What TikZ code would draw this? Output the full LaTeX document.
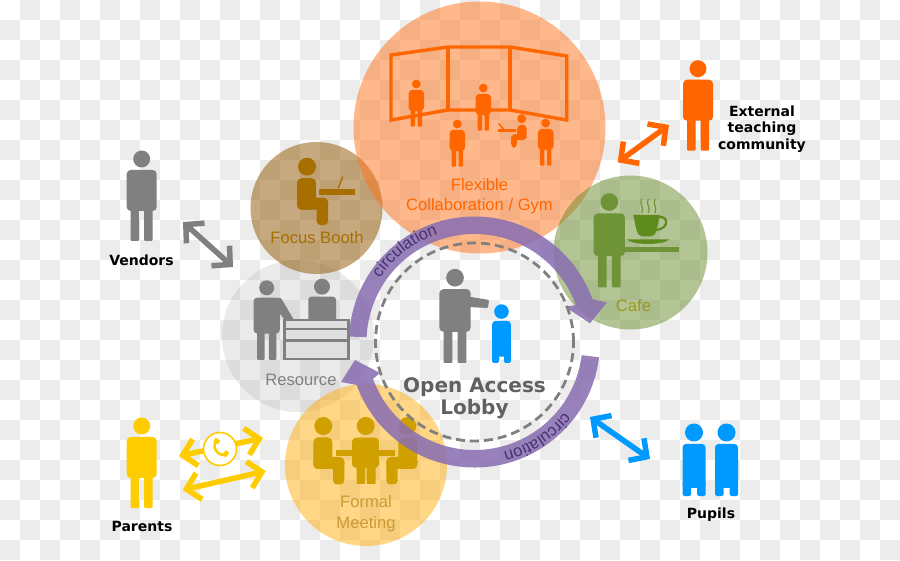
\documentclass[tikz,border=0pt]{standalone}
\usepackage{fontspec}
\setmainfont{Liberation Sans}
\newfontfamily\heavyfont{DejaVu Sans}[BoldFont={DejaVu Sans Bold}]
\usetikzlibrary{arrows.meta, calc, decorations.text}
\definecolor{checkgrey}{HTML}{ECECEC}
\definecolor{flexorange}{HTML}{FF6600}
\definecolor{flexfill}{HTML}{FF7319}
\definecolor{boothfill}{HTML}{915500}
\definecolor{boothbrown}{HTML}{A66F00}
\definecolor{resfill}{HTML}{ACACAC}
\definecolor{figgrey}{HTML}{808080}
\definecolor{cafefill}{HTML}{698B2D}
\definecolor{cafegreen}{HTML}{6F9438}
\definecolor{cupgreen}{HTML}{5E8A1E}
\definecolor{cafetext}{HTML}{999A1E}
\definecolor{meetfill}{HTML}{FFB00F}
\definecolor{meetgold}{HTML}{CFA000}
\definecolor{meettext}{HTML}{CC9A33}
\definecolor{parentyellow}{HTML}{FFCC00}
\definecolor{pupilblue}{HTML}{0099FF}
\definecolor{circpurple}{HTML}{8B70B2}
\definecolor{circtext}{HTML}{453270}
\tikzset{
    zone/.style={circle, inner sep=0pt, fill opacity=0.5},
    roomlabel/.style={align=center, font=\fontsize{16.6}{20.5}\selectfont},
    grouplabel/.style={align=center, text=black, font=\heavyfont\bfseries\fontsize{14}{16.5}\selectfont},
    twoway/.style={{Straight Barb[length=13pt, width=27pt, line width=5.5pt]}-{Straight Barb[length=13pt, width=27pt, line width=5.5pt]}, line width=5.5pt},
    flowarc/.style={fill=circpurple, fill opacity=0.88},
    flowtext/.style={decorate, decoration={text along path, text align=left,
        text={|\fontsize{16.5}{17}\selectfont\color{circtext}|circulation}}},
    person/.pic={
        \fill (0,82) circle[radius=8.5];
        \fill[rounded corners=4pt] (-15,30) rectangle (15,71);
        \fill[rounded corners=1pt] (-11,0) rectangle (-2.5,33);
        \fill[rounded corners=1pt] (2.5,0) rectangle (11,33);
    },
    pupil/.pic={
        \fill (0,63.5) circle[radius=9];
        \fill[rounded corners=3.5pt] (-11.5,8) rectangle (11.5,52);
        \fill[rounded corners=1.5pt] (-11.5,0) rectangle (-3,14);
        \fill[rounded corners=1.5pt] (3,0) rectangle (11.5,14);
    },
    seated/.pic={
        \fill (0,0) circle[radius=9];
        \fill[rounded corners=4.5pt] (-10,-11.5) rectangle (9,-43);
        \fill[rounded corners=4.5pt] (-10,-31) rectangle (21,-43);
        \fill[rounded corners=4pt] (9.7,-31.5) rectangle (21,-58.5);
    }
}
\begin{document}
\begin{tikzpicture}[x=1pt, y=1pt]
% checker backdrop
\fill[white] (0,0) rectangle (900,560);
\foreach \i in {0,...,44}{
    \foreach \j in {0,...,27}{
        \pgfmathtruncatemacro{\odd}{mod(\i+\j,2)}
        \ifnum\odd=1
            \fill[checkgrey] (20*\i,560-20*\j) rectangle (20*\i+20,540-20*\j);
        \fi
    }
}
% rooms
\node[zone, fill=resfill, fill opacity=0.24, minimum size=152pt] (resource) at (298,224) {};
\node[zone, fill=boothfill, minimum size=132pt] (booth) at (316.5,352) {};
\node[zone, fill=flexfill, minimum size=252pt] (flex) at (479.5,432.5) {};
\node[zone, fill=cafefill, minimum size=154pt] (cafe) at (630.5,307.5) {};
\node[zone, fill=meetfill, minimum size=162pt] (meeting) at (366,95) {};
\node[circle, inner sep=0pt, minimum size=198pt] (lobby) at (474.5,218) {};

% flexible room: screen and people
\draw[flexorange, line width=3.4pt, line join=miter] (391,505) -- (448,513) -- (510,513) -- (566.7,504) -- (566.7,440) -- (510,450) -- (448,450) -- (391,440) -- cycle;
\draw[flexorange, line width=3.4pt] (448,513) -- (448,450) (510,513) -- (510,450);
\pic[fill=flexorange, scale=0.52] at (416.3,433.3) {person};
\pic[fill=flexorange, scale=0.52] at (483.3,429.3) {person};
\pic[fill=flexorange, scale=0.52] at (457.3,393.3) {person};
\pic[fill=flexorange, scale=0.52] at (545.7,394.3) {person};
\pic[fill=flexorange, xscale=-0.5, yscale=0.5] at (521.7,441.3) {seated};
\fill[flexorange] (497.5,427.5) rectangle (515.5,430.5);
\draw[flexorange, line width=1.4pt] (503.5,431) -- (498.5,436.5);

% focus booth
\pic[fill=boothbrown] at (307,393.3) {seated};
\fill[boothbrown] (319.3,364.7) rectangle (355,370.7);
\draw[boothbrown, line width=1.4pt] (338.3,372) -- (342.7,383.3);

% resource desk
\pic[fill=figgrey, scale=0.88] at (266.7,200) {person};
\fill[figgrey, rounded corners=1pt] (276,262) -- (281,262) -- (294,240) -- (289,235) -- (276,251) -- cycle;
\fill[figgrey] (322,273.3) circle[radius=8];
\fill[figgrey, rounded corners=3pt] (308.3,238) rectangle (336,263.3);
\draw[figgrey, line width=2.8pt, fill=figgrey!25] (284.5,201) rectangle (348.3,240);
\draw[figgrey, line width=2.8pt] (284.5,231) -- (348.3,231) (284.5,219.5) -- (348.3,219.5);

% cafe
\pic[fill=cafegreen, scale=1.04] at (609.3,272.7) {person};
\fill[cafegreen] (625,308) rectangle (679.3,313.3);
\fill[cupgreen] (626.7,320.7) .. controls (632,314.5) and (664,314.5) .. (669.3,320.7) -- cycle;
\fill[cupgreen] (633.3,345) -- (660,345) -- (657,332) .. controls (655,325) .. (650,323.5) -- (643,323.5) .. controls (638,325) .. (636,332) -- cycle;
\draw[cupgreen, line width=2.2pt] (659,343) .. controls (669,344) and (669,331) .. (656,330);
\foreach \sx in {641.7,648.3,655}{
    \draw[cafegreen, line width=1.2pt] (\sx,361) .. controls (\sx-3,356) and (\sx+3,353) .. (\sx,347);
}

% formal meeting
\pic[fill=meetgold] at (323.3,134) {seated};
\pic[fill=meetgold, xscale=-1] at (407.3,134) {seated};
\fill[meetgold] (365.7,134) circle[radius=9];
\fill[meetgold, rounded corners=4pt] (352,92) rectangle (379,122.3);
\fill[meetgold, rounded corners=1pt] (356.7,76) rectangle (365,95);
\fill[meetgold, rounded corners=1pt] (366.7,76) rectangle (375.7,95);
\fill[meetgold] (336,104.3) rectangle (395,110);

% lobby figures
\pic[fill=figgrey, scale=1.04] at (455,197) {person};
\fill[figgrey, rounded corners=1pt] (468,263.5) -- (489,260) -- (488,252) -- (468,253) -- cycle;
\pic[fill=pupilblue, scale=0.81] at (501.5,197) {pupil};

% outside groups
\pic[fill=figgrey] at (141.7,319) {person};
\pic[fill=flexorange] at (698,409.3) {person};
\pic[fill=parentyellow] at (141.7,52) {person};
\pic[fill=pupilblue] at (694,64) {pupil};
\pic[fill=pupilblue] at (726.5,64) {pupil};

% circulation loop
\fill[flowarc] ($(lobby)+(177.5:125.5)$) arc[start angle=177.5, end angle=20, radius=125.5]
    -- (606.7,257.3) -- (590,236.7) -- (565,253.3) -- ($(lobby)+(20:108)$)
    arc[start angle=20, end angle=177.5, radius=108] -- cycle;
\fill[flowarc] ($(lobby)+(-7:125.5)$) arc[start angle=-7, end angle=-160, radius=125.5]
    -- (341,178) -- (355,200) -- (380,187) -- ($(lobby)+(-160:108)$)
    arc[start angle=-160, end angle=-7, radius=108] -- cycle;
\draw[figgrey, line width=2.8pt, dash pattern=on 9pt off 5pt] (lobby) circle[radius=99];
\path[flowtext] ($(lobby)+(146:114)$) arc[start angle=146, end angle=95, radius=114];
\path[flowtext] ($(lobby)+(-38:114)$) arc[start angle=-38, end angle=-90, radius=114];

% two-way links
\coordinate (vendorA) at (183,338);
\coordinate (vendorB) at (233,293);
\coordinate (externalA) at (617.7,397.7);
\coordinate (externalB) at (669,435);
\coordinate (pupilA) at (590,143);
\coordinate (pupilB) at (650,101);
\coordinate (phoneA) at (179,104);
\coordinate (phoneB) at (263,122);
\coordinate (parentA) at (182.7,70);
\coordinate (parentB) at (265.7,89);
\draw[twoway, figgrey] (vendorA) -- (vendorB);
\draw[twoway, flexorange] (externalA) -- (externalB);
\draw[twoway, pupilblue] (pupilA) -- (pupilB);
\draw[twoway, parentyellow] (phoneA) -- (phoneB);
\draw[twoway, parentyellow] (parentA) -- (parentB);

% phone badge
\node[circle, inner sep=0pt, minimum size=33pt, draw=parentyellow, line width=1.6pt, fill=white] (phone) at (220,111) {};
\draw[parentyellow, line width=2.6pt] (216.5,120) .. controls (211,112) and (218,103.5) .. (227,105);
\draw[parentyellow, line width=4.5pt] (214.5,120.5) -- (219,117.5);
\draw[parentyellow, line width=4.5pt] (224,104) -- (227.5,108.5);

% room labels
\node[roomlabel, text=flexorange] (flexlabel) at (479.5,364) {Flexible\\Collaboration / Gym};
\node[roomlabel, text=boothbrown] (boothlabel) at (317,322) {Focus Booth};
\node[roomlabel, text=figgrey] (reslabel) at (301,180.5) {Resource};
\node[roomlabel, text=cafetext] (cafelabel) at (633.5,254) {Cafe};
\node[roomlabel, text=meettext] (meetlabel) at (366,46.5) {Formal\\Meeting};
\node[align=center, text=black!62, font=\heavyfont\bfseries\fontsize{20}{22.5}\selectfont] (lobbylabel) at (474.5,162) {Open Access\\Lobby};

% group labels
\node[grouplabel] (vendors) at (141.5,300) {Vendors};
\node[grouplabel] (external) at (762,431) {External\\teaching\\community};
\node[grouplabel] (parents) at (142,34) {Parents};
\node[grouplabel] (pupils) at (711,45) {Pupils};
\end{tikzpicture}
\end{document}
